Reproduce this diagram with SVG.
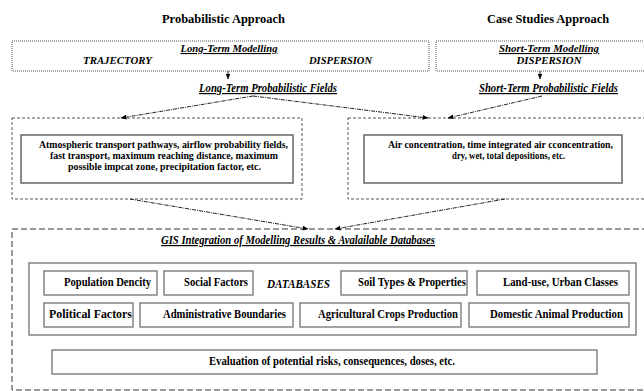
<svg xmlns="http://www.w3.org/2000/svg" width="644" height="391" viewBox="0 0 644 391">
<defs>
<marker id="ah" viewBox="0 0 10 10" refX="9" refY="5" markerWidth="6" markerHeight="6" orient="auto" markerUnits="userSpaceOnUse">
<path d="M0,1 L10,5 L0,9 z" fill="#000"/>
</marker>
</defs>
<style>
text{font-family:"Liberation Serif","Times New Roman",serif;font-weight:bold;font-size:12px;fill:#000}
.h{font-size:13px}
.p{font-size:10.5px}
.m{font-size:11px}
.i{font-style:italic}
.u{text-decoration:underline}
.dot{fill:none;stroke:#555;stroke-width:1;stroke-dasharray:1 1}
.dsh{fill:none;stroke:#555;stroke-width:1;stroke-dasharray:3 2}
.big{fill:none;stroke:#333;stroke-width:1;stroke-dasharray:6 3}
.solid{fill:#fff;stroke:#666;stroke-width:1.5}
.box{fill:#fff;stroke:#666;stroke-width:1.2}
.c{fill:none;stroke:#222;stroke-width:1;stroke-dasharray:4 1 1 1;marker-end:url(#ah)}
</style>
<rect width="644" height="391" fill="#fff"/>

<g id="titles">
<text class="h" x="223.5" y="23" text-anchor="middle" textLength="123" lengthAdjust="spacingAndGlyphs">Probabilistic Approach</text>
<text class="h" x="548" y="23" text-anchor="middle" textLength="122" lengthAdjust="spacingAndGlyphs">Case Studies Approach</text>
</g>

<g id="long-term-modelling">
<rect class="dot" x="12" y="41" width="417" height="30"/>
<text class="i u m" x="229" y="52" text-anchor="middle" textLength="97" lengthAdjust="spacingAndGlyphs">Long-Term Modelling</text>
<text class="i m" x="83" y="64" textLength="69" lengthAdjust="spacingAndGlyphs">TRAJECTORY</text>
<text class="i m" x="309" y="64" textLength="63" lengthAdjust="spacingAndGlyphs">DISPERSION</text>
</g>

<g id="short-term-modelling">
<rect class="dot" x="436" y="41" width="212" height="30"/>
<text class="i u m" x="549" y="52" text-anchor="middle" textLength="100" lengthAdjust="spacingAndGlyphs">Short-Term Modelling</text>
<text class="i m" x="549" y="64" text-anchor="middle" textLength="65" lengthAdjust="spacingAndGlyphs">DISPERSION</text>
</g>

<g id="long-term-fields">
<text class="i u" x="199" y="92" textLength="138" lengthAdjust="spacingAndGlyphs">Long-Term Probabilistic Fields</text>
</g>
<g id="short-term-fields">
<text class="i u" x="479" y="92" textLength="139" lengthAdjust="spacingAndGlyphs">Short-Term Probabilistic Fields</text>
</g>

<g id="probabilistic-results">
<rect class="dsh" x="12" y="118" width="290" height="81"/>
<rect class="solid" x="21" y="135" width="272" height="48"/>
<text class="p" x="163.5" y="148" text-anchor="middle" textLength="249" lengthAdjust="spacingAndGlyphs">Atmospheric transport pathways, airflow probability fields,</text>
<text class="p" x="164" y="159" text-anchor="middle" textLength="228" lengthAdjust="spacingAndGlyphs">fast transport, maximum reaching distance, maximum</text>
<text class="p" x="164.5" y="170" text-anchor="middle" textLength="193" lengthAdjust="spacingAndGlyphs">possible impcat zone, precipitation factor, etc.</text>
</g>

<g id="case-results">
<rect class="dsh" x="348" y="118" width="300" height="81"/>
<rect class="solid" x="364" y="135" width="258" height="48"/>
<text class="p" x="500.5" y="148" text-anchor="middle" textLength="225" lengthAdjust="spacingAndGlyphs">Air concentration, time integrated air cconcentration,</text>
<text class="p" x="508.5" y="159" text-anchor="middle" textLength="113" lengthAdjust="spacingAndGlyphs">dry, wet, total depositions, etc.</text>
</g>

<g id="gis">
<rect class="big" x="12" y="229" width="640" height="161"/>
<text class="i u" x="298" y="244" text-anchor="middle" textLength="274" lengthAdjust="spacingAndGlyphs">GIS Integration of Modelling Results &amp; Avalailable Databases</text>
</g>

<g id="databases">
<rect class="box" x="29" y="263" width="607" height="72"/>
<text class="i" x="267" y="288" textLength="63" lengthAdjust="spacingAndGlyphs">DATABASES</text>
</g>
<g id="population"><rect class="box" x="44" y="271" width="113" height="24"/><text x="107.5" y="286" text-anchor="middle" textLength="87" lengthAdjust="spacingAndGlyphs">Population Dencity</text></g>
<g id="social"><rect class="box" x="164" y="271" width="89" height="24"/><text x="216" y="286" text-anchor="middle" textLength="64" lengthAdjust="spacingAndGlyphs">Social Factors</text></g>
<g id="soil"><rect class="box" x="341" y="271" width="126" height="24"/><text x="412" y="286" text-anchor="middle" textLength="108" lengthAdjust="spacingAndGlyphs">Soil Types &amp; Properties</text></g>
<g id="landuse"><rect class="box" x="477" y="271" width="152" height="24"/><text x="560.5" y="286" text-anchor="middle" textLength="115" lengthAdjust="spacingAndGlyphs">Land-use, Urban Classes</text></g>
<g id="political"><rect class="box" x="44" y="303" width="89" height="24"/><text x="90.5" y="318" text-anchor="middle" textLength="83" lengthAdjust="spacingAndGlyphs">Political Factors</text></g>
<g id="administrative"><rect class="box" x="140" y="303" width="153" height="24"/><text x="224.5" y="318" text-anchor="middle" textLength="123" lengthAdjust="spacingAndGlyphs">Administrative Boundaries</text></g>
<g id="agricultural"><rect class="box" x="300" y="303" width="161" height="24"/><text x="388" y="318" text-anchor="middle" textLength="140" lengthAdjust="spacingAndGlyphs">Agricultural Crops Production</text></g>
<g id="domestic"><rect class="box" x="469" y="303" width="160" height="24"/><text x="556.5" y="318" text-anchor="middle" textLength="133" lengthAdjust="spacingAndGlyphs">Domestic Animal Production</text></g>

<g id="evaluation"><rect class="box" x="52" y="350" width="545" height="24"/><text x="332" y="365" text-anchor="middle" textLength="246" lengthAdjust="spacingAndGlyphs">Evaluation of potential risks, consequences, doses, etc.</text></g>

<g id="connectors">
<line class="c" x1="228" y1="71" x2="228" y2="79"/>
<line class="c" x1="540" y1="71" x2="540" y2="79"/>
<line class="c" x1="253" y1="96" x2="121" y2="118"/>
<line class="c" x1="253" y1="96" x2="428" y2="118"/>
<line class="c" x1="542" y1="96" x2="448" y2="118"/>
<line class="c" x1="130" y1="199" x2="308" y2="229"/>
<line class="c" x1="505" y1="199" x2="335" y2="229"/>
</g>
</svg>
